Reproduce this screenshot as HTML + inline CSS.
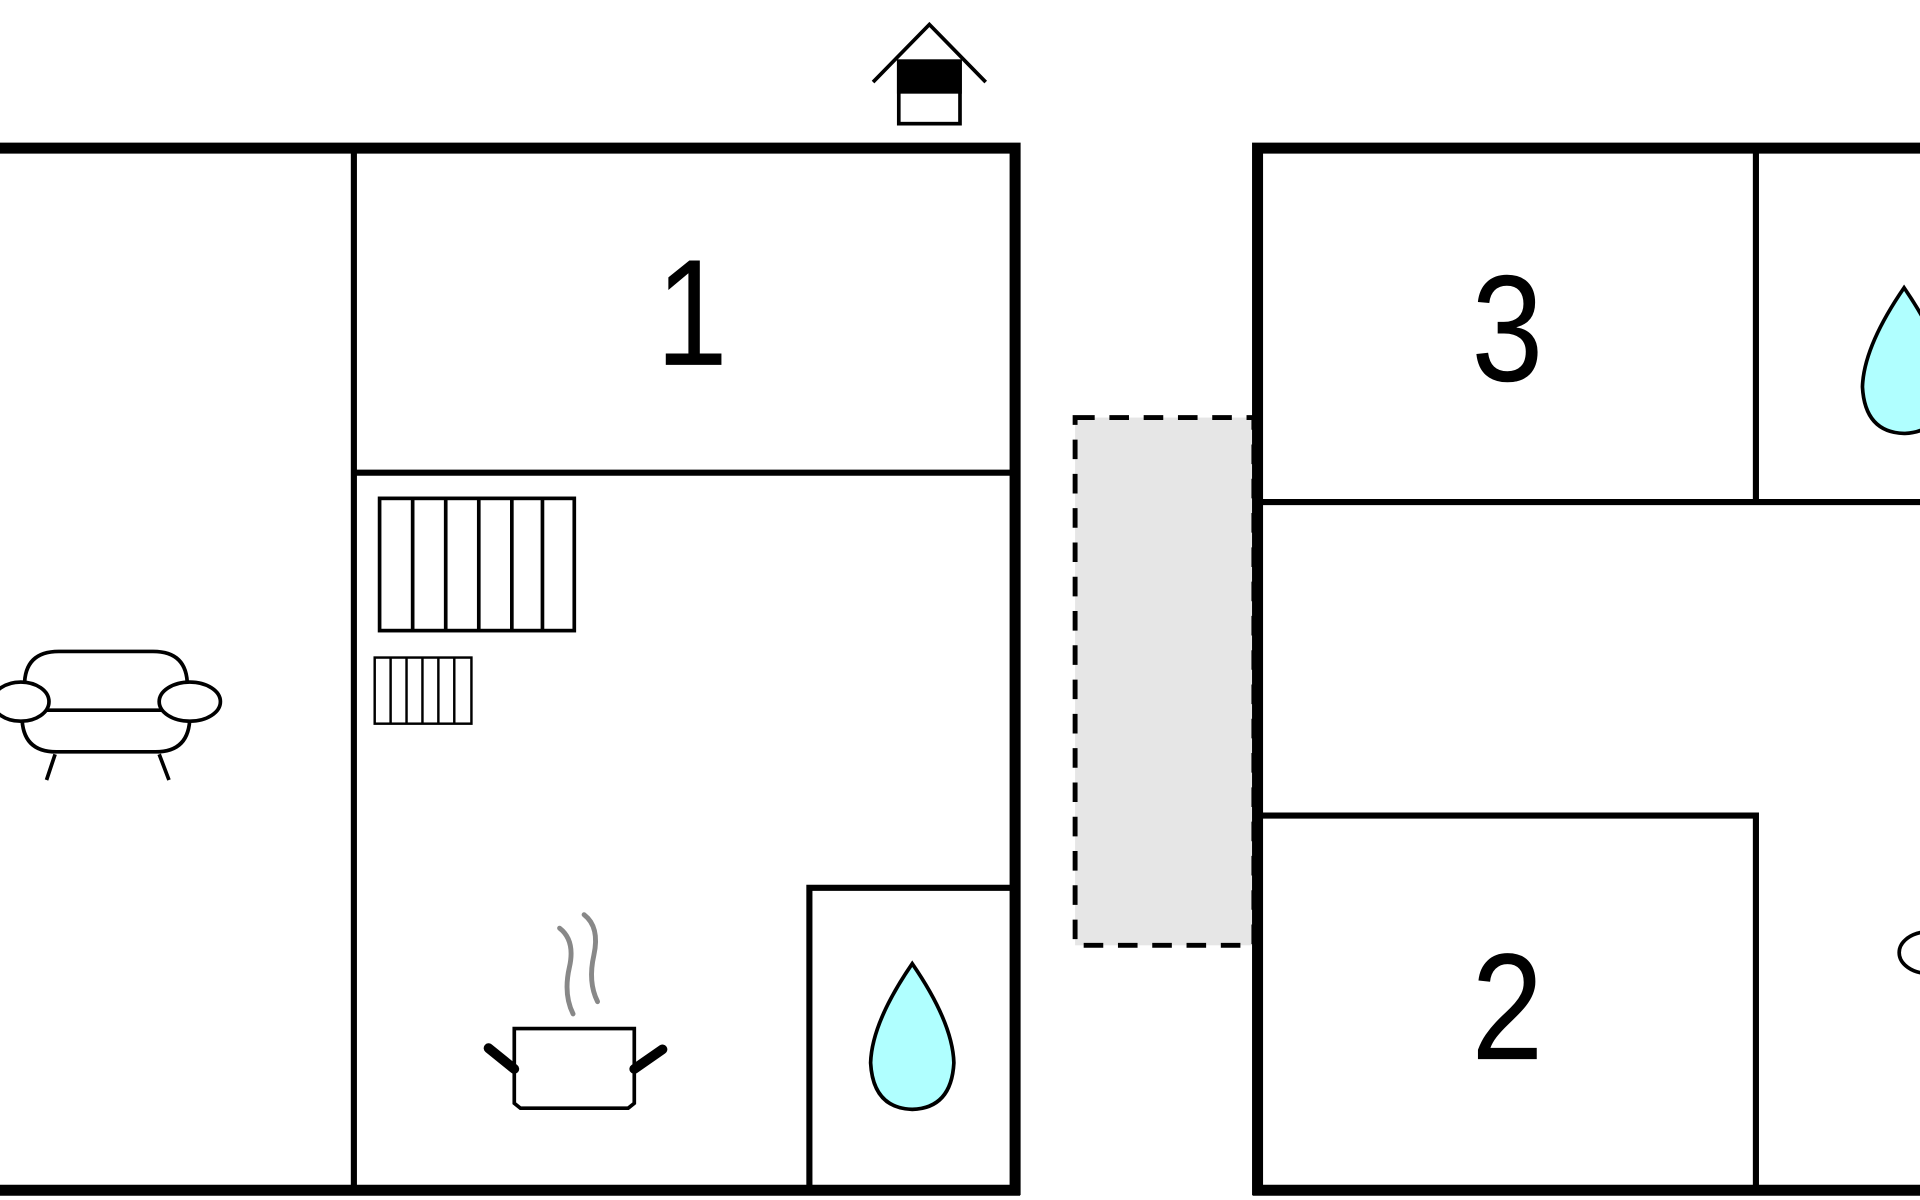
<!DOCTYPE html>
<html><head><style>html,body{margin:0;padding:0;background:#fff;overflow:hidden}svg{display:block}</style></head>
<body>
<svg width="1920" height="1200" viewBox="0 0 1568 980" preserveAspectRatio="none" xmlns="http://www.w3.org/2000/svg">
<rect width="1568" height="980" fill="#fff"/>
<rect x="878" y="341" width="146" height="431" fill="#e6e6e6" stroke="#000" stroke-width="4" stroke-dasharray="16,12"/>
<g stroke="#000" fill="none">
<path d="M-5 121 H829 V976" stroke-width="9"/>
<path d="M-5 972 H833" stroke-width="9"/>
<path d="M289 121 V972" stroke-width="5"/>
<path d="M289 386 H825" stroke-width="5"/>
<path d="M661 972 V725 H825" stroke-width="5"/>
<path d="M1027 976 V121 H1575" stroke-width="9"/>
<path d="M1023 972 H1575" stroke-width="9"/>
<path d="M1434 121 V410" stroke-width="5"/>
<path d="M1031 410 H1575" stroke-width="5"/>
<path d="M1031 666 H1434 V972" stroke-width="5"/>
<rect x="310" y="407" width="159" height="108" stroke-width="3"/>
<path d="M337 407V515M364 407V515M391 407V515M418 407V515M443 407V515" stroke-width="3"/>
<rect x="306" y="537" width="79" height="54" stroke-width="2"/>
<path d="M319 537V591M332 537V591M345 537V591M358 537V591M371 537V591" stroke-width="2"/>
<path d="M20 560 Q20 532 48 532 H125 Q153 532 153 560" stroke-width="3"/>
<path d="M36 580 H136" stroke-width="3"/>
<path d="M18 585 Q18 614 46 614 H127 Q155 614 155 585" stroke-width="3"/>
<ellipse cx="17" cy="573" rx="23" ry="16" fill="#fff" stroke-width="3"/>
<ellipse cx="155" cy="573" rx="25" ry="16" fill="#fff" stroke-width="3"/>
<path d="M45 616 L38 637 M130 616 L138 637" stroke-width="3"/>
<path d="M420 840 H518 V901 L513 905 H425 L420 901 Z" stroke-width="3"/>
<path d="M420 873 L399 856 M518 873 L541 857" stroke-width="8" stroke-linecap="round"/>
<path d="M457 758 Q470 768 465 790 Q460 812 468 828" stroke="#888" stroke-width="4" stroke-linecap="round"/>
<path d="M477 747 Q490 757 485 780 Q480 802 488 818" stroke="#888" stroke-width="4" stroke-linecap="round"/>
<path d="M745 787 Q712 835 711 868 Q713 905 745 906 Q777 905 779 868 Q778 835 745 787 Z" fill="#b0ffff" stroke-width="3"/>
<path d="M1555 235 Q1522 283 1521 316 Q1523 353 1555 354 Q1587 353 1589 316 Q1588 283 1555 235 Z" fill="#b0ffff" stroke-width="3"/>
<ellipse cx="1575" cy="778" rx="24" ry="17" stroke-width="3"/>
<path d="M713 67 L759 20 L805 67" stroke-width="3"/>
<rect x="734" y="50" width="50" height="51" fill="#fff" stroke-width="3"/>
<rect x="734" y="50" width="50" height="25" fill="#000" stroke-width="3"/>
</g>
<g font-family="Liberation Sans, sans-serif" font-size="124" text-anchor="middle" fill="#000">
<text transform="translate(565,298) scale(0.85,1)">1</text>
<text transform="translate(1231,311) scale(0.85,1)">3</text>
<text transform="translate(1231,865) scale(0.85,1)">2</text>
</g>
</svg>
</body></html>
